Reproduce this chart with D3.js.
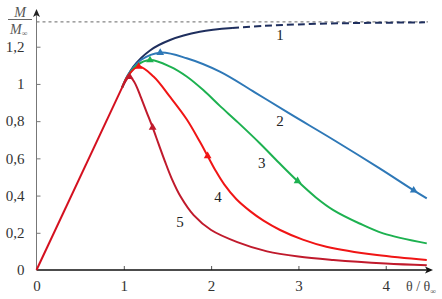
<!DOCTYPE html>
<html>
<head>
<meta charset="utf-8">
<script src="https://cdn.jsdelivr.net/npm/d3@7"></script>
<style>
  body { margin: 0; background: #fff; }
  svg { display: block; }
</style>
</head>
<body>
<script>
// values, M/M∞ against θ/θ∞
const thetaBase = [0, 0.98]
const mBase = [0, 0.98]

const theta1 = [0.98, 1.11, 1.3, 1.53, 1.87, 2.24]
const m1 = [0.98, 1.093, 1.18, 1.236, 1.28, 1.30]
const theta1Dash = [2.24, 2.6, 3.0, 3.5, 4.0, 4.45]
const m1Dash = [1.30, 1.312, 1.32, 1.326, 1.329, 1.331]

const theta2 = [0.98, 1.05, 1.2, 1.417, 1.72, 2.1, 2.5, 2.9, 3.4, 3.93, 4.32, 4.47]
const m2 = [0.98, 1.05, 1.13, 1.168, 1.138, 1.066, 0.955, 0.84, 0.70, 0.546, 0.428, 0.385]

const theta3 = [0.98, 1.05, 1.15, 1.3, 1.53, 1.72, 1.91, 2.1, 2.31, 2.56, 2.78, 2.99, 3.2, 3.4, 3.7, 3.97, 4.47]
const m3 = [0.98, 1.045, 1.10, 1.128, 1.093, 1.04, 0.967, 0.882, 0.792, 0.68, 0.575, 0.478, 0.39, 0.322, 0.25, 0.197, 0.143]

const theta4 = [0.98, 1.05, 1.17, 1.34, 1.53, 1.72, 1.87, 1.96, 2.05, 2.15, 2.29, 2.45, 2.6, 2.79, 3.05, 3.32, 3.9, 4.47]
const m4 = [0.98, 1.045, 1.093, 1.04, 0.93, 0.81, 0.69, 0.613, 0.535, 0.46, 0.38, 0.315, 0.265, 0.215, 0.163, 0.125, 0.08, 0.054]

const theta5 = [0.98, 1.066, 1.12, 1.19, 1.26, 1.33, 1.4, 1.47, 1.55, 1.65, 1.8, 2.0, 2.3, 2.64, 3.0, 3.4, 4.0, 4.47]
const m5 = [0.98, 1.039, 1.01, 0.935, 0.85, 0.766, 0.675, 0.585, 0.49, 0.395, 0.295, 0.215, 0.15, 0.10, 0.072, 0.054, 0.035, 0.025]

const asymptote = 4 / 3

// triangle markers: peak and one on the falling branch
const markerTheta = [1.417, 4.32, 1.3, 2.99, 1.17, 1.96, 1.066, 1.33]
const markerM = [1.168, 0.428, 1.128, 0.478, 1.093, 0.613, 1.039, 0.766]
const markerSeries = [2, 2, 3, 3, 4, 4, 5, 5]

const curveNames = ['1', '2', '3', '4', '5']
const labelTheta = [2.79, 2.79, 2.58, 2.08, 1.644]
const labelM = [1.262, 0.80, 0.578, 0.392, 0.258]

const xTicks = [0, 1, 2, 3, 4]
const yTicks = [0, 0.2, 0.4, 0.6, 0.8, 1, 1.2]

const colors = { 1: '#1f2f5e', 2: '#2e78b7', 3: '#1db150', 4: '#f01515', 5: '#c01a2c', base: '#d4101f' }
const serif = '"Liberation Serif", "DejaVu Serif", serif'

const W = 442, H = 299

const svg = d3.select('body').append('svg').attr('width', W).attr('height', H)
	.style('font-family', serif)

const x = d3.scaleLinear().domain([0, 4.5]).range([36.5, 429.4])
const y = d3.scaleLinear().domain([0, 1.4]).range([270, 9.5])

const fmt = (d) => d3.format('~g')(d).replace('.', ',')

// dotted asymptote
svg.append('line')
	.attr('x1', x(0)).attr('x2', 428)
	.attr('y1', y(asymptote)).attr('y2', y(asymptote))
	.attr('stroke', '#666').attr('stroke-width', 1)
	.attr('stroke-dasharray', '3,3')

// y axis
const yAxis = d3.axisLeft(y).tickValues(yTicks).tickSize(-4).tickPadding(12).tickFormat(fmt)
const gy = svg.append('g').attr('transform', `translate(${x(0)},0)`).call(yAxis)
gy.select('.domain').remove()
gy.selectAll('.tick line').attr('stroke', '#777')
gy.selectAll('.tick').filter((d) => d === 0).select('line').remove()
gy.selectAll('text').attr('font-size', 15).attr('fill', '#333').style('font-family', serif)
gy.append('line').attr('x1', 0).attr('x2', 0).attr('y1', y(0)).attr('y2', 14)
	.attr('stroke', '#777').attr('stroke-width', 1)
gy.append('path').attr('d', 'M0,9 L-3.5,17 L0,15 L3.5,17 Z').attr('fill', '#222')

// x axis
const xAxis = d3.axisBottom(x).tickValues(xTicks).tickSize(-4).tickPadding(10).tickFormat(fmt)
const gx = svg.append('g').attr('transform', `translate(0,${y(0)})`).call(xAxis)
gx.select('.domain').remove()
gx.selectAll('.tick line').attr('stroke', '#555')
gx.selectAll('.tick').filter((d) => d === 0).select('line').remove()
gx.selectAll('text').attr('font-size', 15).attr('fill', '#333').style('font-family', serif)
gx.append('line').attr('x1', x(0)).attr('x2', 428).attr('y1', 0).attr('y2', 0)
	.attr('stroke', '#111').attr('stroke-width', 1.5)
gx.append('path').attr('d', 'M433,0 L425,-3.5 L427,0 L425,3.5 Z').attr('fill', '#111')

// axis titles
const xt = svg.append('text').attr('x', 406).attr('y', 291).attr('font-size', 14).attr('fill', '#444')
	.style('font-family', serif)
xt.append('tspan').text('θ / θ')
xt.append('tspan').attr('font-size', 8).attr('dy', 3).text('∞')

svg.append('text').attr('x', 20).attr('y', 17).attr('text-anchor', 'middle')
	.attr('font-size', 14).attr('font-style', 'italic').attr('fill', '#555')
	.style('font-family', serif).text('M')
svg.append('line').attr('x1', 8).attr('x2', 32).attr('y1', 19.5).attr('y2', 19.5)
	.attr('stroke', '#666').attr('stroke-width', 1)
const yt = svg.append('text').attr('x', 10).attr('y', 34)
	.attr('font-size', 14).attr('font-style', 'italic').attr('fill', '#555')
	.style('font-family', serif)
yt.append('tspan').text('M')
yt.append('tspan').attr('font-size', 8).attr('font-style', 'normal').attr('dy', 2).text('∞')

// curves
const line = d3.line().x((d) => x(d[0])).y((d) => y(d[1])).curve(d3.curveCatmullRom.alpha(0.5))
const pairs = (a, b) => a.map((v, i) => [v, b[i]])

const series = [
	{ id: 1, pts: pairs(theta1, m1) },
	{ id: 2, pts: pairs(theta2, m2) },
	{ id: 3, pts: pairs(theta3, m3) },
	{ id: 4, pts: pairs(theta4, m4) },
	{ id: 5, pts: pairs(theta5, m5) }
]

svg.append('path')
	.attr('d', line(pairs(theta1Dash, m1Dash)))
	.attr('fill', 'none').attr('stroke', colors[1]).attr('stroke-width', 2)
	.attr('stroke-dasharray', '7,4')

svg.selectAll('path.curve')
	.data(series)
	.enter().append('path')
		.attr('class', 'curve')
		.attr('d', (d) => line(d.pts))
		.attr('fill', 'none')
		.attr('stroke', (d) => colors[d.id])
		.attr('stroke-width', 2)

svg.append('path')
	.attr('d', line(pairs(thetaBase, mBase)))
	.attr('fill', 'none').attr('stroke', colors.base).attr('stroke-width', 2)

svg.selectAll('path.marker')
	.data(markerTheta)
	.enter().append('path')
		.attr('class', 'marker')
		.attr('d', d3.symbol().type(d3.symbolTriangle).size(26))
		.attr('transform', (d, i) => `translate(${x(d)},${y(markerM[i])})`)
		.attr('fill', (d, i) => colors[markerSeries[i]])

svg.selectAll('text.name')
	.data(curveNames)
	.enter().append('text')
		.attr('class', 'name')
		.attr('x', (d, i) => x(labelTheta[i]))
		.attr('y', (d, i) => y(labelM[i]))
		.attr('dy', '0.35em')
		.attr('text-anchor', 'middle')
		.attr('font-size', 15)
		.attr('fill', '#222')
		.style('font-family', serif)
		.text((d) => d)
</script>
</body>
</html>
